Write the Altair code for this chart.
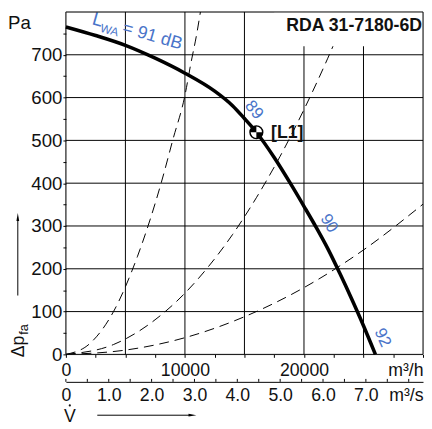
import altair as alt
import pandas as pd

# ---- data ----
# main fan curve (volume flow m3/h, static pressure Pa)
fan_V = [0, 2500, 5000, 7500, 10000, 12500, 14000, 15000, 16000, 17500, 19000, 20000, 21000, 22000, 23000, 24000, 25000, 26000]
fan_p = [765, 745, 722, 692, 657, 615, 581, 551, 519, 460, 393, 346, 298, 247, 190, 130, 67, 0]

# dashed system curves
sysA_V = [0, 2000, 4000, 6000, 8000, 9000, 10000, 10500, 11000, 11300]
sysA_p = [0, 25, 100, 228, 400, 503, 605, 680, 750, 800]
sysB_V = [0, 4000, 8000, 10000, 12000, 14000, 16000, 18000, 20000, 22000, 23600]
sysB_p = [0, 23, 92, 143, 206, 280, 366, 463, 572, 692, 797]
sysC_V = [0, 5000, 10000, 15000, 20000, 25000, 30000]
sysC_p = [0, 10, 39, 88, 156, 244, 351]

# grid and ticks
grid_V = [5000, 10000, 15000, 20000, 25000]
grid_p = [100, 200, 300, 400, 500, 600, 700]
x_ticks = [0, 2500, 5000, 7500, 10000, 12500, 15000, 17500, 20000, 22500, 25000, 27500, 30000]
y_ticks = [0, 50, 100, 150, 200, 250, 300, 350, 400, 450, 500, 550, 600, 650, 700, 750]
qs_ticks = [0, 0.5, 1.0, 1.5, 2.0, 2.5, 3.0, 3.5, 4.0, 4.5, 5.0, 5.5, 6.0, 6.5, 7.0, 7.5, 8.0]
qs_label_vals = [0, 1, 2, 3, 4, 5, 6, 7]

# operating point
op_V = [16000]
op_p = [519]
op_label = ["[L1]"]

# sound power labels along the curve
lvl_text = ["89", "90", "92"]
lvl_V = [15800, 22100, 26600]
lvl_p = [571, 306, 39]
lvl_angle = [50, 58, 65]
lwa_V = [2140]
lwa_p = [772]

title_text = "RDA 31-7180-6D"

FONT = "Liberation Sans, Arial, Helvetica, sans-serif"
BLUE = "#4a74c9"
INK = "#111111"

xs = alt.Scale(domain=[0, 30000], nice=False, zero=False)
ys = alt.Scale(domain=[0, 800], nice=False, zero=False)

one = pd.DataFrame({"k": [0]})

# grid
grid_v = alt.Chart(pd.DataFrame({"V": grid_V})).mark_rule(color="black", strokeWidth=1).encode(
    x=alt.X("V:Q", scale=xs, axis=None))
grid_h = alt.Chart(pd.DataFrame({"p": grid_p})).mark_rule(color="black", strokeWidth=1).encode(
    y=alt.Y("p:Q", scale=ys, axis=None))

# dashed system curves
sys_df = pd.concat([
    pd.DataFrame({"V": sysA_V, "p": sysA_p, "c": "A"}),
    pd.DataFrame({"V": sysB_V, "p": sysB_p, "c": "B"}),
    pd.DataFrame({"V": sysC_V, "p": sysC_p, "c": "C"}),
])
sys_lines = alt.Chart(sys_df).mark_line(color="black", strokeWidth=1, strokeDash=[10, 6],
                                        interpolate="monotone", clip=True).encode(
    x=alt.X("V:Q", scale=xs, axis=None), y=alt.Y("p:Q", scale=ys, axis=None), detail="c:N")

# white box behind the title
tbox = alt.Chart(pd.DataFrame({"V": [17500], "V2": [30000], "p": [720], "p2": [800]})).mark_rect(
    fill="white").encode(x=alt.X("V:Q", scale=xs, axis=None), x2="V2:Q",
                         y=alt.Y("p:Q", scale=ys, axis=None), y2="p2:Q")

# fan curve
fan = alt.Chart(pd.DataFrame({"V": fan_V, "p": fan_p})).mark_line(
    color="black", strokeWidth=3.6, interpolate="monotone").encode(
    x=alt.X("V:Q", scale=xs, axis=None), y=alt.Y("p:Q", scale=ys, axis=None))

op_df = pd.DataFrame({"V": op_V, "p": op_p, "t": op_label})
op_bg = alt.Chart(op_df).mark_point(shape="circle", filled=True, color="white", size=169,
                                    opacity=1).encode(
    x=alt.X("V:Q", scale=xs, axis=None), y=alt.Y("p:Q", scale=ys, axis=None))
op_quads = alt.Chart(op_df).mark_point(
    shape="M0,0L-1,0L-0.92,-0.38L-0.71,-0.71L-0.38,-0.92L0,-1Z M0,0L1,0L0.92,0.38L0.71,0.71L0.38,0.92L0,1Z",
    filled=True, color="black", size=169, opacity=1).encode(
    x=alt.X("V:Q", scale=xs, axis=None), y=alt.Y("p:Q", scale=ys, axis=None))
op_ring = alt.Chart(op_df).mark_point(shape="circle", filled=False, color="black", strokeWidth=1.5,
                                      size=169, opacity=1).encode(
    x=alt.X("V:Q", scale=xs, axis=None), y=alt.Y("p:Q", scale=ys, axis=None))
op_text = alt.Chart(op_df).mark_text(align="left", baseline="middle", dx=15, dy=1, font=FONT,
                                     fontSize=18, fontWeight="bold", color=INK).encode(
    x=alt.X("V:Q", scale=xs, axis=None), y=alt.Y("p:Q", scale=ys, axis=None), text="t:N")

# blue level labels
lvl_df = pd.DataFrame({"V": lvl_V, "p": lvl_p, "t": lvl_text, "a": lvl_angle})
lvl = alt.Chart(lvl_df).mark_text(align="center", baseline="middle", font=FONT, fontSize=17,
                                  color=BLUE).encode(
    x=alt.X("V:Q", scale=xs, axis=None), y=alt.Y("p:Q", scale=ys, axis=None), text="t:N",
    angle=alt.Angle("a:Q", scale=None))

lwa_df = pd.DataFrame({"V": lwa_V, "p": lwa_p})
def lwa_piece(txt, dx, dy, size):
    return alt.Chart(lwa_df).mark_text(align="left", baseline="alphabetic", angle=16, dx=dx, dy=dy,
                                       font=FONT, fontSize=size, color=BLUE, text=txt).encode(
        x=alt.X("V:Q", scale=xs, axis=None), y=alt.Y("p:Q", scale=ys, axis=None))
lwa = lwa_piece("L", 0, 0, 19) + lwa_piece("WA", 10, 5, 12) + lwa_piece("= 91 dB", 32, 0, 18)

# title
title = alt.Chart(pd.DataFrame({"V": [30000], "p": [766], "t": [title_text]})).mark_text(
    align="right", baseline="middle", dx=-1, font=FONT, fontSize=18, fontWeight="bold",
    color=INK).encode(x=alt.X("V:Q", scale=xs, axis=None), y=alt.Y("p:Q", scale=ys, axis=None),
                      text="t:N")

# frame with main axes
x_axis_main = alt.Axis(
    values=x_ticks, grid=False, domain=False, ticks=True, tickSize=3, tickColor="black",
    labelExpr="datum.value == 0 ? '0' : datum.value == 10000 ? '10000' : datum.value == 20000 ? '20000' : datum.value == 30000 ? 'm³/h' : ''",
    labelAlign={"condition": {"test": "datum.value >= 30000", "value": "right"}, "value": "center"},
    labelFont=FONT, labelFontSize=18, labelColor=INK, labelPadding=5, labelOverlap=False,
    labelBound=False, labelFlush=False, title=None, orient="bottom")
y_axis = alt.Axis(
    values=y_ticks, grid=False, domain=False, ticks=True, tickSize=3, tickColor="black",
    labelExpr="datum.value % 100 == 0 ? datum.value : ''",
    labelFont=FONT, labelFontSize=19, labelColor=INK, labelPadding=1, labelOverlap=False,
    title=None, orient="left")
frame = alt.Chart(pd.DataFrame({"V": [0], "V2": [30000], "p": [0], "p2": [800]})).mark_rect(
    fill="white", fillOpacity=0, stroke="black", strokeWidth=1).encode(
    x=alt.X("V:Q", scale=xs, axis=x_axis_main), x2="V2:Q",
    y=alt.Y("p:Q", scale=ys, axis=y_axis), y2="p2:Q")

# second axis in m3/s
x_axis_s = alt.Axis(
    orient="bottom", offset=28, values=[v * 3600 for v in qs_label_vals] + [30000], grid=False,
    domain=True, domainColor="black", domainWidth=1, ticks=False, tickSize=0,
    labelExpr="datum.value >= 30000 ? 'm³/s' : datum.value == 0 ? '0' : format(datum.value / 3600, '.1f')",
    labelAlign={"condition": {"test": "datum.value >= 30000", "value": "right"}, "value": "center"},
    labelFont=FONT, labelFontSize=18, labelColor=INK, labelPadding=5, labelOverlap=False,
    labelBound=False, labelFlush=False, title=None)
s_ticks = alt.Chart(pd.DataFrame({"q": qs_ticks})).transform_calculate(V="datum.q * 3600").mark_rule(
    color="black", strokeWidth=1).encode(
    x=alt.X("V:Q", scale=xs, axis=x_axis_s), y=alt.value(374), y2=alt.value(377))

# decorations outside the plot
pa = alt.Chart(one).mark_text(align="left", baseline="alphabetic", font=FONT, fontSize=19,
                              color=INK, text="Pa").encode(x=alt.value(-59), y=alt.value(17))
dp1 = alt.Chart(one).mark_text(align="left", baseline="alphabetic", angle=270, font=FONT, fontSize=18,
                               color=INK, text="Δp").encode(x=alt.value(-43), y=alt.value(352))
dp2 = alt.Chart(one).mark_text(align="left", baseline="alphabetic", angle=270, dx=23, dy=4, font=FONT,
                               fontSize=13, color=INK, text="fa").encode(x=alt.value(-43), y=alt.value(352))
y_arrow = alt.Chart(one).mark_rule(color="black", strokeWidth=1).encode(
    x=alt.value(-49), y=alt.value(289), y2=alt.value(212))
y_head = alt.Chart(one).mark_point(shape="M0,-1L0.35,1L-0.35,1Z", filled=True, color="black", size=64,
                                   opacity=1).encode(x=alt.value(-49), y=alt.value(209))
vtxt = alt.Chart(one).mark_text(align="center", baseline="alphabetic", font=FONT, fontSize=18,
                                color=INK, text="V").encode(x=alt.value(4), y=alt.value(418))
vdot = alt.Chart(one).mark_point(shape="circle", filled=True, color=INK, size=5, opacity=1).encode(
    x=alt.value(4), y=alt.value(401))
x_arrow = alt.Chart(one).mark_rule(color="black", strokeWidth=1).encode(
    x=alt.value(32), x2=alt.value(127), y=alt.value(411))
x_head = alt.Chart(one).mark_point(shape="M1,0L-1,-0.35L-1,0.35Z", filled=True, color="black", size=64,
                                   opacity=1).encode(x=alt.value(129), y=alt.value(411))

chart = alt.layer(
    grid_v, grid_h, sys_lines, tbox, fan, op_bg, op_quads, op_ring, op_text, lvl, lwa, title,
    frame, s_ticks, pa, dp1, dp2, y_arrow, y_head, vtxt, vdot, x_arrow, x_head
).resolve_axis(x="independent", y="independent").properties(
    width=364, height=349, autosize=alt.AutoSizeParams(type="none"),
    padding={"left": 59, "top": 0, "right": 1, "bottom": 72}
).configure_view(stroke=None).configure(background="white")

chart.save("out.html", embed_options={"renderer": "svg", "actions": False})
